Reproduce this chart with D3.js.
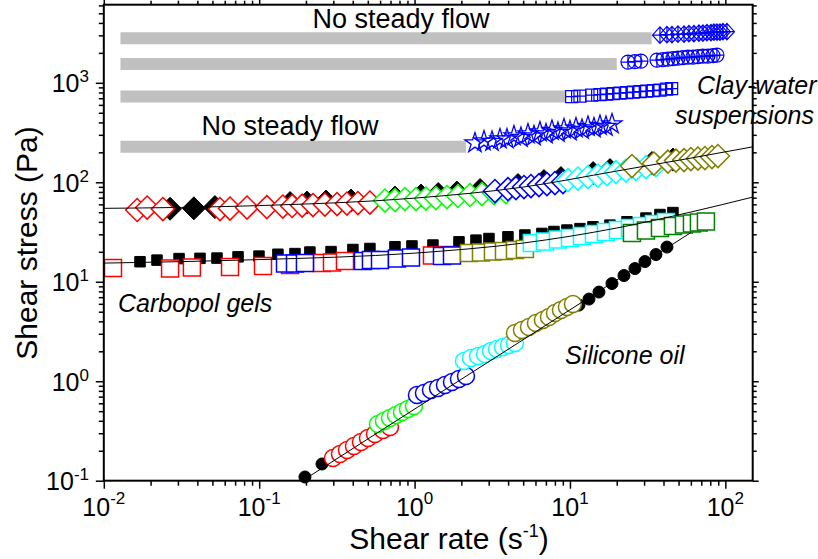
<!DOCTYPE html>
<html><head><meta charset="utf-8">
<script src="https://cdn.jsdelivr.net/npm/d3@7"></script>
<style>body{margin:0;background:#fff}svg{display:block}</style>
</head><body>
<svg id="chart" width="818" height="559"></svg>
<script>
// ---------------- DATA ----------------
// Axis ticks
const xTickVals = [0.01, 0.1, 1, 10, 100];
const xTickExp  = ["-2", "-1", "0", "1", "2"];
const yTickVals = [0.1, 1, 10, 100, 1000];
const yTickExp  = ["-1", "0", "1", "2", "3"];

// "No steady flow" grey bars (clay-water suspensions)
const barStartX = 0.0128;
const barY    = [2800, 1550, 730, 228];
const barEndX = [33.6, 20.0, 9.4, 2.14];

// Clay-water suspensions (blue)
const clayDiaX = [37.95, 42.10, 45.34, 49.55, 54.2, 58.32, 62.81, 67.6, 71.75, 76.14, 80.78, 84.45, 88.28, 92.33, 96.51, 102.4];
const clayDiaY = [3016, 3050, 3050, 3086, 3086, 3122, 3122, 3158, 3158, 3195, 3195, 3232, 3232, 3232, 3270, 3270];
const clayCirX = [23.62, 26.20, 28.63, 36.29, 39.68, 42.7, 46.0, 49.55, 53.36, 57.46, 61.87, 66.63, 71.75, 77.27, 83.22, 88.28];
const clayCirY = [1615, 1634, 1653, 1691, 1711, 1731, 1751, 1771, 1792, 1813, 1813, 1834, 1855, 1855, 1877, 1899];
const claySqX  = [10.25, 11.60, 13.79, 15.60, 17.23, 19.00, 20.98, 23.17, 25.55, 28.21, 31.16, 34.36, 37.95, 41.91, 45.14];
const claySqY  = [726.7, 735.2, 752.4, 761.2, 770.0, 779.1, 788.1, 797.3, 806.5, 816.0, 825.5, 835.0, 844.7, 864.6, 874.6];
const clayStarX = [2.447, 2.797, 3.150, 3.544, 3.931, 4.360, 4.837, 5.367, 5.867, 6.41, 7.008, 7.66, 8.37, 9.15, 10.0, 10.93, 11.95, 13.06, 14.27, 15.60, 17.05, 18.64];
const clayStarY = [247.7, 259.4, 256.4, 271.8, 271.8, 291.3, 281.3, 305.1, 291.3, 319.6, 305.1, 330.9, 315.9, 342.6, 327.1, 350.6, 338.6, 363.0, 350.6, 371.4, 363.0, 384.6];

// Carbopol gels, upper (diamonds)
const carbHiBlackX = [0.0267, 0.038, 0.0519, 0.158, 0.203, 0.269, 0.39, 0.748, 1.10, 1.42, 1.87, 2.64, 4.63, 6.80, 8.75, 14.1, 18.1, 24.7, 33.7, 46.0];
const carbHiBlackY = [54.2, 54.7, 56.3, 61.8, 62.5, 64.0, 65.5, 70.2, 73.5, 76.1, 78.8, 83.5, 93.7, 102.8, 110.2, 123.7, 132.6, 143.8, 156.0, 169.1];
const carbHiRedX = [0.0164, 0.0190, 0.0240, 0.0559, 0.0649, 0.0835, 0.112, 0.142, 0.163, 0.189, 0.222, 0.265, 0.317, 0.367, 0.432, 0.516];
const carbHiRedY = [52.6, 55.7, 53.8, 53.8, 54.4, 55.7, 56.3, 57.0, 57.7, 58.3, 59.0, 59.7, 60.4, 61.1, 61.8, 62.5];
const carbHiGreenX = [0.645, 0.748, 0.867, 1.021, 1.184, 1.373, 1.616, 1.902, 2.272, 2.715, 3.243, 3.875];
const carbHiGreenY = [65.5, 66.2, 67.8, 67.8, 68.6, 69.4, 71.0, 72.7, 74.4, 76.1, 77.9, 79.7];
const carbHiBlueX = [3.29, 3.99, 4.49, 5.06, 5.61, 6.32, 7.11, 8.01, 9.02];
const carbHiBlueY = [81.6, 85.4, 87.4, 89.5, 91.6, 93.7, 95.9, 98.2, 100.5];
const carbHiCyanX = [9.71, 11.26, 13.06, 15.14, 17.30, 19.77, 22.93, 26.59, 30.84, 35.76];
const carbHiCyanY = [105.2, 109.0, 112.8, 116.8, 120.9, 126.6, 131.1, 135.7, 142.2, 148.9];
const carbHiOliveX = [25.06, 34.71, 42.7, 48.1, 54.2, 60.0, 66.6, 73.9, 82.0, 89.6];
const carbHiOliveY = [145.5, 154.2, 161.4, 165.2, 167.1, 171.1, 173.1, 175.1, 179.2, 183.4];
const fitHiX = [0.01, 0.1, 1, 5, 20, 60, 150];
const fitHiY = [54.7, 58.3, 69.3, 89.5, 129.7, 175, 227];

// Carbopol gels, lower (squares)
const carbLoBlackX = [0.0171, 0.0220, 0.0305, 0.0416, 0.0535, 0.0731, 0.0997, 0.132, 0.170, 0.212, 0.290, 0.401, 0.516, 0.748, 0.962, 1.313, 1.931, 2.484, 3.011, 3.99, 5.13, 6.60, 7.89, 9.56, 11.60, 14.06, 18.09, 23.28, 30.84, 37.95, 46.0];
const carbLoBlackY = [15.9, 16.5, 17.1, 17.2, 17.3, 17.8, 18.1, 18.9, 19.2, 19.9, 20.1, 21.1, 21.6, 22.5, 22.9, 23.4, 25.2, 26.2, 27.2, 28.3, 29.5, 30.6, 32.0, 33.1, 34.2, 35.7, 37.1, 40.1, 43.7, 47.4, 49.6];
const carbLoRedX = [0.01146, 0.0267, 0.0369, 0.0649, 0.1058, 0.158, 0.2536, 0.2941, 0.3565, 1.294, 1.569];
const carbLoRedY = [13.73, 13.57, 13.89, 14.05, 14.38, 14.72, 15.41, 15.60, 16.14, 18.34, 18.55];
const carbLoBlueX = [0.1466, 0.170, 0.197, 0.4656, 0.524, 0.599, 0.770, 0.948, 1.501, 1.741];
const carbLoBlueY = [15.23, 15.23, 15.41, 16.14, 16.52, 16.52, 17.11, 17.51, 18.13, 18.34];
const carbLoOliveX = [2.239, 2.675, 3.195, 3.762, 4.427, 5.13];
const carbLoOliveY = [19.43, 19.66, 20.12, 20.35, 20.83, 21.31];
const carbLoCyanX = [5.69, 6.90, 8.37, 10.0, 11.95, 14.27, 17.05, 20.37, 24.33, 29.07, 34.71, 41.47];
const carbLoCyanY = [24.48, 25.35, 26.56, 27.50, 28.80, 30.16, 31.59, 33.08, 34.65, 36.29, 38.01, 39.81];
const carbLoGreenX = [25.06, 30.84, 37.95, 46.0, 54.2, 60.96, 67.6, 75.0];
const carbLoGreenY = [30.86, 32.70, 34.65, 36.29, 37.57, 38.45, 39.36, 40.27];
const fitLoX = [0.01, 0.1, 1, 5, 20, 60, 150];
const fitLoY = [15.4, 16.7, 19.4, 24.5, 34.7, 50.2, 71.0];

// Silicone oil (circles)
const siliBlackX = [0.197, 0.2536, 11.43, 13.26, 15.37, 18.64, 22.26, 26.20, 30.38, 35.76, 42.10];
const siliBlackY = [0.109, 0.1472, 5.830, 6.70, 7.88, 9.59, 11.54, 13.57, 15.96, 18.77, 22.32];
const siliRedX = [0.2985, 0.3311, 0.3673, 0.4074, 0.4519, 0.5013, 0.5561, 0.6262, 0.6945];
const siliRedY = [0.1691, 0.1854, 0.2034, 0.2231, 0.2447, 0.2685, 0.2945, 0.3230, 0.3463];
const siliGreenX = [0.5813, 0.6355, 0.6945, 0.7589, 0.8296, 0.9068, 0.991];
const siliGreenY = [0.3713, 0.3981, 0.4268, 0.4575, 0.4904, 0.5257, 0.5637];
const siliBlueX = [1.036, 1.149, 1.275, 1.415, 1.569, 1.741, 1.931, 2.142];
const siliBlueY = [0.7266, 0.7610, 0.8156, 0.8540, 0.9158, 0.9817, 1.052, 1.128];
const siliCyanX = [2.079, 2.307, 2.559, 2.838, 3.102, 3.391, 3.706, 4.051, 4.427];
const siliCyanY = [1.596, 1.711, 1.792, 1.877, 2.011, 2.106, 2.207, 2.311, 2.420];
const siliOliveX = [4.427, 4.91, 5.447, 6.04, 6.70, 7.325, 8.01, 8.75, 9.56, 10.45];
const siliOliveY = [3.051, 3.269, 3.504, 3.844, 4.122, 4.417, 4.846, 5.194, 5.567, 5.967];
const fitSiX = [0.19, 60];
const fitSiY = [0.100, 31.2];

// ---------------- CHART ----------------
const svg = d3.select('#chart');
const L = 103.8, R = 752.7, T = 4.7, B = 480.7;
const x = d3.scaleLog().domain([0.01, 150]).range([L, R]);
const y = d3.scaleLog().domain([0.1, 6100]).range([B, T]);
const FONT = "'Liberation Sans', Arial, Helvetica, sans-serif";

svg.append('rect').attr('width', 818).attr('height', 559).attr('fill', '#fff');

svg.append('defs').append('clipPath').attr('id', 'plotclip')
  .append('rect').attr('x', L).attr('y', T).attr('width', R - L).attr('height', B - T);

const plot = svg.append('g');

// grey bars
plot.selectAll('line.bar').data(barY.map((v, i) => ({y: v, e: barEndX[i]})))
  .enter().append('line')
  .attr('x1', x(barStartX)).attr('x2', d => x(d.e))
  .attr('y1', d => y(d.y)).attr('y2', d => y(d.y))
  .attr('stroke', '#c0c0c0').attr('stroke-width', 12);

// symbol paths
const diamond = h => `M0,${-h}L${h},0L0,${h}L${-h},0Z`;
const square = s => { const h = s / 2; return `M${-h},${-h}H${h}V${h}H${-h}Z`; };
const circle = r => `M${r},0A${r},${r} 0 1,1 ${-r},0A${r},${r} 0 1,1 ${r},0Z`;
const diaCross = h => `M0,${-h*1.1}L${h},0L0,${h*1.1}L${-h},0Z` + `M0,${-h*1.1}V${h*1.1}M${-h},0H${h}`;
const cirPlus = r => circle(r) + `M0,${-r}V${r}M${-r},0H${r}`;
const sqPlus = s => square(s) + `M0,${-s/2}V${s/2}M${-s/2},0H${s/2}`;
const star = d3.symbol(d3.symbolStar, 125)();

function drawSeries(xs, ys, path, stroke, fill, sw) {
  const data = xs.map((v, i) => ({x: v, y: ys[i]}));
  plot.append('g').selectAll('path').data(data).enter().append('path')
    .attr('d', path)
    .attr('transform', d => `translate(${x(d.x)},${y(d.y)})`)
    .attr('fill', fill).attr('stroke', stroke).attr('stroke-width', sw);
}

// clay-water
drawSeries(clayDiaX, clayDiaY, diaCross(7.5), '#0000ff', 'none', 1.2);
drawSeries(clayCirX, clayCirY, cirPlus(7), '#0000ff', 'none', 1.2);
drawSeries(claySqX, claySqY, sqPlus(12), '#0000ff', 'none', 1.2);
drawSeries(clayStarX, clayStarY, star, '#0000ff', 'none', 1.3);

// carbopol upper diamonds
drawSeries(carbHiBlackX, carbHiBlackY, diamond(11.5), '#000', '#000', 1);
drawSeries(carbHiRedX, carbHiRedY, diamond(11.5), '#ff0000', '#fff', 1.5);
drawSeries(carbHiGreenX, carbHiGreenY, diamond(11.5), '#00ff00', '#fff', 1.5);
drawSeries(carbHiBlueX, carbHiBlueY, diamond(11.5), '#0000ff', '#fff', 1.5);
drawSeries(carbHiCyanX, carbHiCyanY, diamond(11.5), '#00ffff', '#fff', 1.5);
drawSeries(carbHiOliveX, carbHiOliveY, diamond(11.5), '#808000', '#fff', 1.5);

// carbopol lower squares
drawSeries(carbLoBlackX, carbLoBlackY, square(10.5), '#000', '#000', 1);
drawSeries(carbLoRedX, carbLoRedY, square(17), '#ff0000', '#fff', 1.5);
drawSeries(carbLoBlueX, carbLoBlueY, square(17), '#0000ff', '#fff', 1.5);
drawSeries(carbLoOliveX, carbLoOliveY, square(17), '#808000', '#fff', 1.5);
drawSeries(carbLoCyanX, carbLoCyanY, square(17), '#00ffff', '#fff', 1.5);
drawSeries(carbLoGreenX, carbLoGreenY, square(17), '#008000', '#fff', 1.5);

// silicone oil circles
drawSeries(siliBlackX, siliBlackY, circle(6), '#000', '#000', 1);
drawSeries(siliRedX, siliRedY, circle(8.5), '#ff0000', '#fff', 1.5);
drawSeries(siliGreenX, siliGreenY, circle(8.5), '#00ff00', '#fff', 1.5);
drawSeries(siliBlueX, siliBlueY, circle(8.5), '#0000ff', '#fff', 1.5);
drawSeries(siliCyanX, siliCyanY, circle(8.5), '#00ffff', '#fff', 1.5);
drawSeries(siliOliveX, siliOliveY, circle(8.5), '#808000', '#fff', 1.5);

// fit lines
const fitLine = d3.line().x(d => x(d[0])).y(d => y(d[1])).curve(d3.curveMonotoneX);
[[fitHiX, fitHiY], [fitLoX, fitLoY], [fitSiX, fitSiY]].forEach(([xs, ys]) => {
  plot.append('path').attr('clip-path', 'url(#plotclip)')
    .attr('d', fitLine(xs.map((v, i) => [v, ys[i]])))
    .attr('fill', 'none').attr('stroke', '#000').attr('stroke-width', 1);
});

// ---------------- AXES ----------------
function minorTicks(lo, hi) {
  const out = [];
  for (let e = Math.floor(Math.log10(lo)); e <= Math.ceil(Math.log10(hi)); e++)
    for (let k = 2; k <= 9; k++) { const v = k * Math.pow(10, e); if (v > lo && v < hi) out.push(v); }
  return out;
}
const xMinor = minorTicks(0.01, 150), yMinor = minorTicks(0.1, 6100);

function styleAxis(g) {
  g.select('.domain').remove();
  g.selectAll('.tick line').attr('stroke', '#000').attr('stroke-width', 1.5);
}
const nofmt = () => '';
svg.append('g').attr('transform', `translate(0,${B})`).call(d3.axisBottom(x).tickValues(xMinor).tickSize(5).tickFormat(nofmt)).call(styleAxis);
svg.append('g').attr('transform', `translate(0,${B})`).call(d3.axisBottom(x).tickValues(xTickVals).tickSize(8).tickFormat(nofmt)).call(styleAxis);
svg.append('g').attr('transform', `translate(0,${T})`).call(d3.axisTop(x).tickValues(xMinor).tickSize(4).tickFormat(nofmt)).call(styleAxis);
svg.append('g').attr('transform', `translate(0,${T})`).call(d3.axisTop(x).tickValues(xTickVals).tickSize(6).tickFormat(nofmt)).call(styleAxis);
svg.append('g').attr('transform', `translate(${L},0)`).call(d3.axisLeft(y).tickValues(yMinor).tickSize(5).tickFormat(nofmt)).call(styleAxis);
svg.append('g').attr('transform', `translate(${L},0)`).call(d3.axisLeft(y).tickValues(yTickVals).tickSize(8).tickFormat(nofmt)).call(styleAxis);
svg.append('g').attr('transform', `translate(${R},0)`).call(d3.axisRight(y).tickValues(yMinor).tickSize(4).tickFormat(nofmt)).call(styleAxis);
svg.append('g').attr('transform', `translate(${R},0)`).call(d3.axisRight(y).tickValues(yTickVals).tickSize(6).tickFormat(nofmt)).call(styleAxis);

// frame
svg.append('rect').attr('x', L).attr('y', T).attr('width', R - L).attr('height', B - T)
  .attr('fill', 'none').attr('stroke', '#000').attr('stroke-width', 2);

// tick labels
xTickVals.forEach((v, i) => {
  const t = svg.append('text').attr('x', x(v)).attr('y', 515.5).attr('text-anchor', 'middle')
    .attr('font-family', FONT).attr('font-size', 25).attr('fill', '#000');
  t.append('tspan').text('10');
  t.append('tspan').attr('font-size', 17).attr('dy', -12).text(xTickExp[i]);
});
yTickVals.forEach((v, i) => {
  const t = svg.append('text').attr('x', 89).attr('y', y(v) + 9.5).attr('text-anchor', 'end')
    .attr('font-family', FONT).attr('font-size', 25).attr('fill', '#000');
  t.append('tspan').text('10');
  t.append('tspan').attr('font-size', 17).attr('dy', -10).text(yTickExp[i]);
});

// axis titles
svg.append('text').attr('transform', 'translate(37,243) rotate(-90)').attr('text-anchor', 'middle')
  .attr('font-family', FONT).attr('font-size', 30).attr('fill', '#000').text('Shear stress (Pa)');
const xt = svg.append('text').attr('x', 449).attr('y', 548.5).attr('text-anchor', 'middle')
  .attr('font-family', FONT).attr('font-size', 30).attr('fill', '#000');
xt.append('tspan').text('Shear rate (s');
xt.append('tspan').attr('font-size', 18).attr('dy', -12).text('-1');
xt.append('tspan').attr('dy', 12).text(')');

// annotations
const ann = (txt, ax, ay, opts = {}) => svg.append('text').attr('x', ax).attr('y', ay)
  .attr('font-family', FONT).attr('font-size', opts.size || 25)
  .attr('font-style', opts.italic ? 'italic' : 'normal')
  .attr('text-anchor', opts.anchor || 'start').attr('fill', '#000').text(txt);
ann('No steady flow', 401, 28, {anchor: 'middle', size: 27});
ann('No steady flow', 290, 135, {anchor: 'middle', size: 27});
ann('Clay-water', 697, 94, {italic: true, size: 25});
ann('suspensions', 675, 124, {italic: true, size: 25});
ann('Carbopol gels', 118, 312, {italic: true, size: 25});
ann('Silicone oil', 565, 364, {italic: true, size: 25});
</script>
</body></html>
